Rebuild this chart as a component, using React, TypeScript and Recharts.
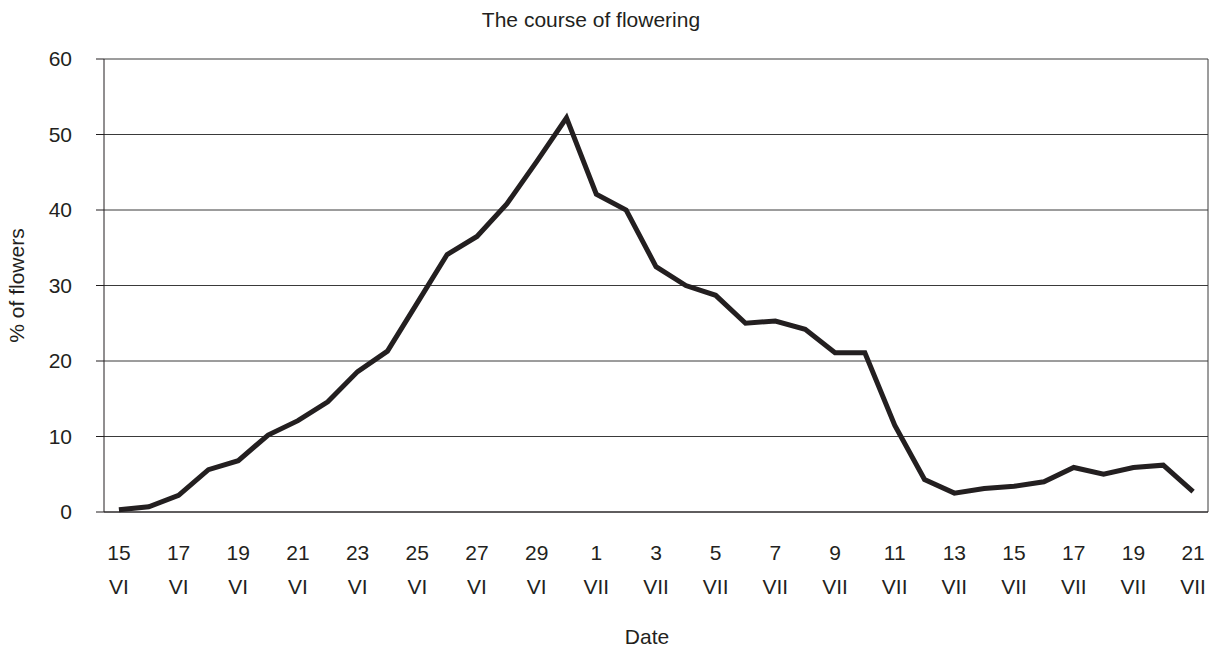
import { LineChart, Line, XAxis, YAxis, CartesianGrid, ReferenceLine } from "recharts";

const days = [15, 16, 17, 18, 19, 20, 21, 22, 23, 24, 25, 26, 27, 28, 29, 30, 1, 2, 3, 4, 5, 6, 7, 8, 9, 10, 11, 12, 13, 14, 15, 16, 17, 18, 19, 20, 21];
const months = [
  "VI", "VI", "VI", "VI", "VI", "VI", "VI", "VI", "VI", "VI", "VI", "VI", "VI", "VI", "VI", "VI",
  "VII", "VII", "VII", "VII", "VII", "VII", "VII", "VII", "VII", "VII", "VII", "VII", "VII", "VII",
  "VII", "VII", "VII", "VII", "VII", "VII", "VII",
];
const flowers = [
  0.3, 0.7, 2.2, 5.6, 6.8, 10.2, 12.1, 14.6, 18.6, 21.3, 27.7, 34.1, 36.5, 40.8, 46.4, 52.2,
  42.1, 40.0, 32.5, 30.0, 28.7, 25.0, 25.3, 24.2, 21.1, 21.1, 11.5, 4.3, 2.5, 3.1, 3.4, 4.0,
  5.9, 5.0, 5.9, 6.2, 2.7,
];
const yTicks = [0, 10, 20, 30, 40, 50, 60];

const data = flowers.map((v, i) => ({ idx: i, day: days[i], month: months[i], pct: v }));
const labelTicks = data.filter((d) => d.idx % 2 === 0).map((d) => d.idx);
const boundaryTicks = [...data.map((d) => d.idx - 0.5), data.length - 0.5];

const FONT = "'Liberation Sans', Arial, sans-serif";
const INK = "#231f20";
const GRID = "#3a3a3a";

const DateTick = (props: any) => {
  const { x, y, payload } = props;
  const d = data[payload.value];
  if (!d) return null;
  return (
    <g>
      <text x={x} y={y + 32} textAnchor="middle" dominantBaseline="central" fontSize={21} fontFamily={FONT} fill={INK}>
        {d.day}
      </text>
      <text x={x} y={y + 66} textAnchor="middle" dominantBaseline="central" fontSize={21} fontFamily={FONT} fill={INK}>
        {d.month}
      </text>
    </g>
  );
};

export default function App() {
  return (
    <div style={{ position: "absolute", left: 0, top: 0, width: 1211, height: 648, background: "#fff" }}>
      <div
        style={{
          position: "absolute",
          left: 591,
          top: 20,
          transform: "translate(-50%, -50%)",
          fontFamily: FONT,
          fontSize: 21,
          color: INK,
          whiteSpace: "nowrap",
        }}
      >
        The course of flowering
      </div>
      <LineChart width={1211} height={648} data={data} margin={{ top: 59, right: 3, bottom: 0, left: 0 }}>
        <CartesianGrid xAxisId="base" vertical={false} stroke={GRID} strokeWidth={1} />
        <XAxis
          xAxisId="base"
          dataKey="idx"
          type="number"
          domain={[-0.5, data.length - 0.5]}
          ticks={boundaryTicks}
          interval={0}
          tick={false}
          tickSize={7}
          height={8}
          stroke={INK}
          axisLine={{ stroke: INK }}
          tickLine={{ stroke: INK }}
        />
        <XAxis
          xAxisId="labels"
          dataKey="idx"
          type="number"
          domain={[-0.5, data.length - 0.5]}
          ticks={labelTicks}
          interval={0}
          axisLine={false}
          tickLine={false}
          tickSize={0}
          tickMargin={0}
          height={128}
          tick={<DateTick />}
          label={(p: any) => {
            const vb = p.viewBox;
            return (
              <text x={vb.x + vb.width / 2 - 9} y={vb.y + vb.height - 12} textAnchor="middle" dominantBaseline="central" fontSize={21} fontFamily={FONT} fill={INK}>
                Date
              </text>
            );
          }}
        />
        <YAxis
          domain={[0, 60]}
          ticks={yTicks}
          interval={0}
          width={104}
          tickSize={8}
          tickMargin={24}
          stroke={INK}
          tick={{ fontSize: 21, fontFamily: FONT, fill: INK }}
          label={(p: any) => {
            const vb = p.viewBox;
            const cy = vb.y + vb.height / 2;
            return (
              <text x={16} y={cy} transform={`rotate(-90, 16, ${cy})`} textAnchor="middle" dominantBaseline="central" fontSize={21} fontFamily={FONT} fill={INK}>
                % of flowers
              </text>
            );
          }}
        />
        <ReferenceLine xAxisId="base" x={data.length - 0.5} stroke={GRID} strokeWidth={1} />
        <Line
          xAxisId="base"
          type="linear"
          dataKey="pct"
          stroke={INK}
          strokeWidth={5}
          strokeLinejoin="miter"
          dot={false}
          activeDot={false}
          isAnimationActive={false}
        />
      </LineChart>
    </div>
  );
}
